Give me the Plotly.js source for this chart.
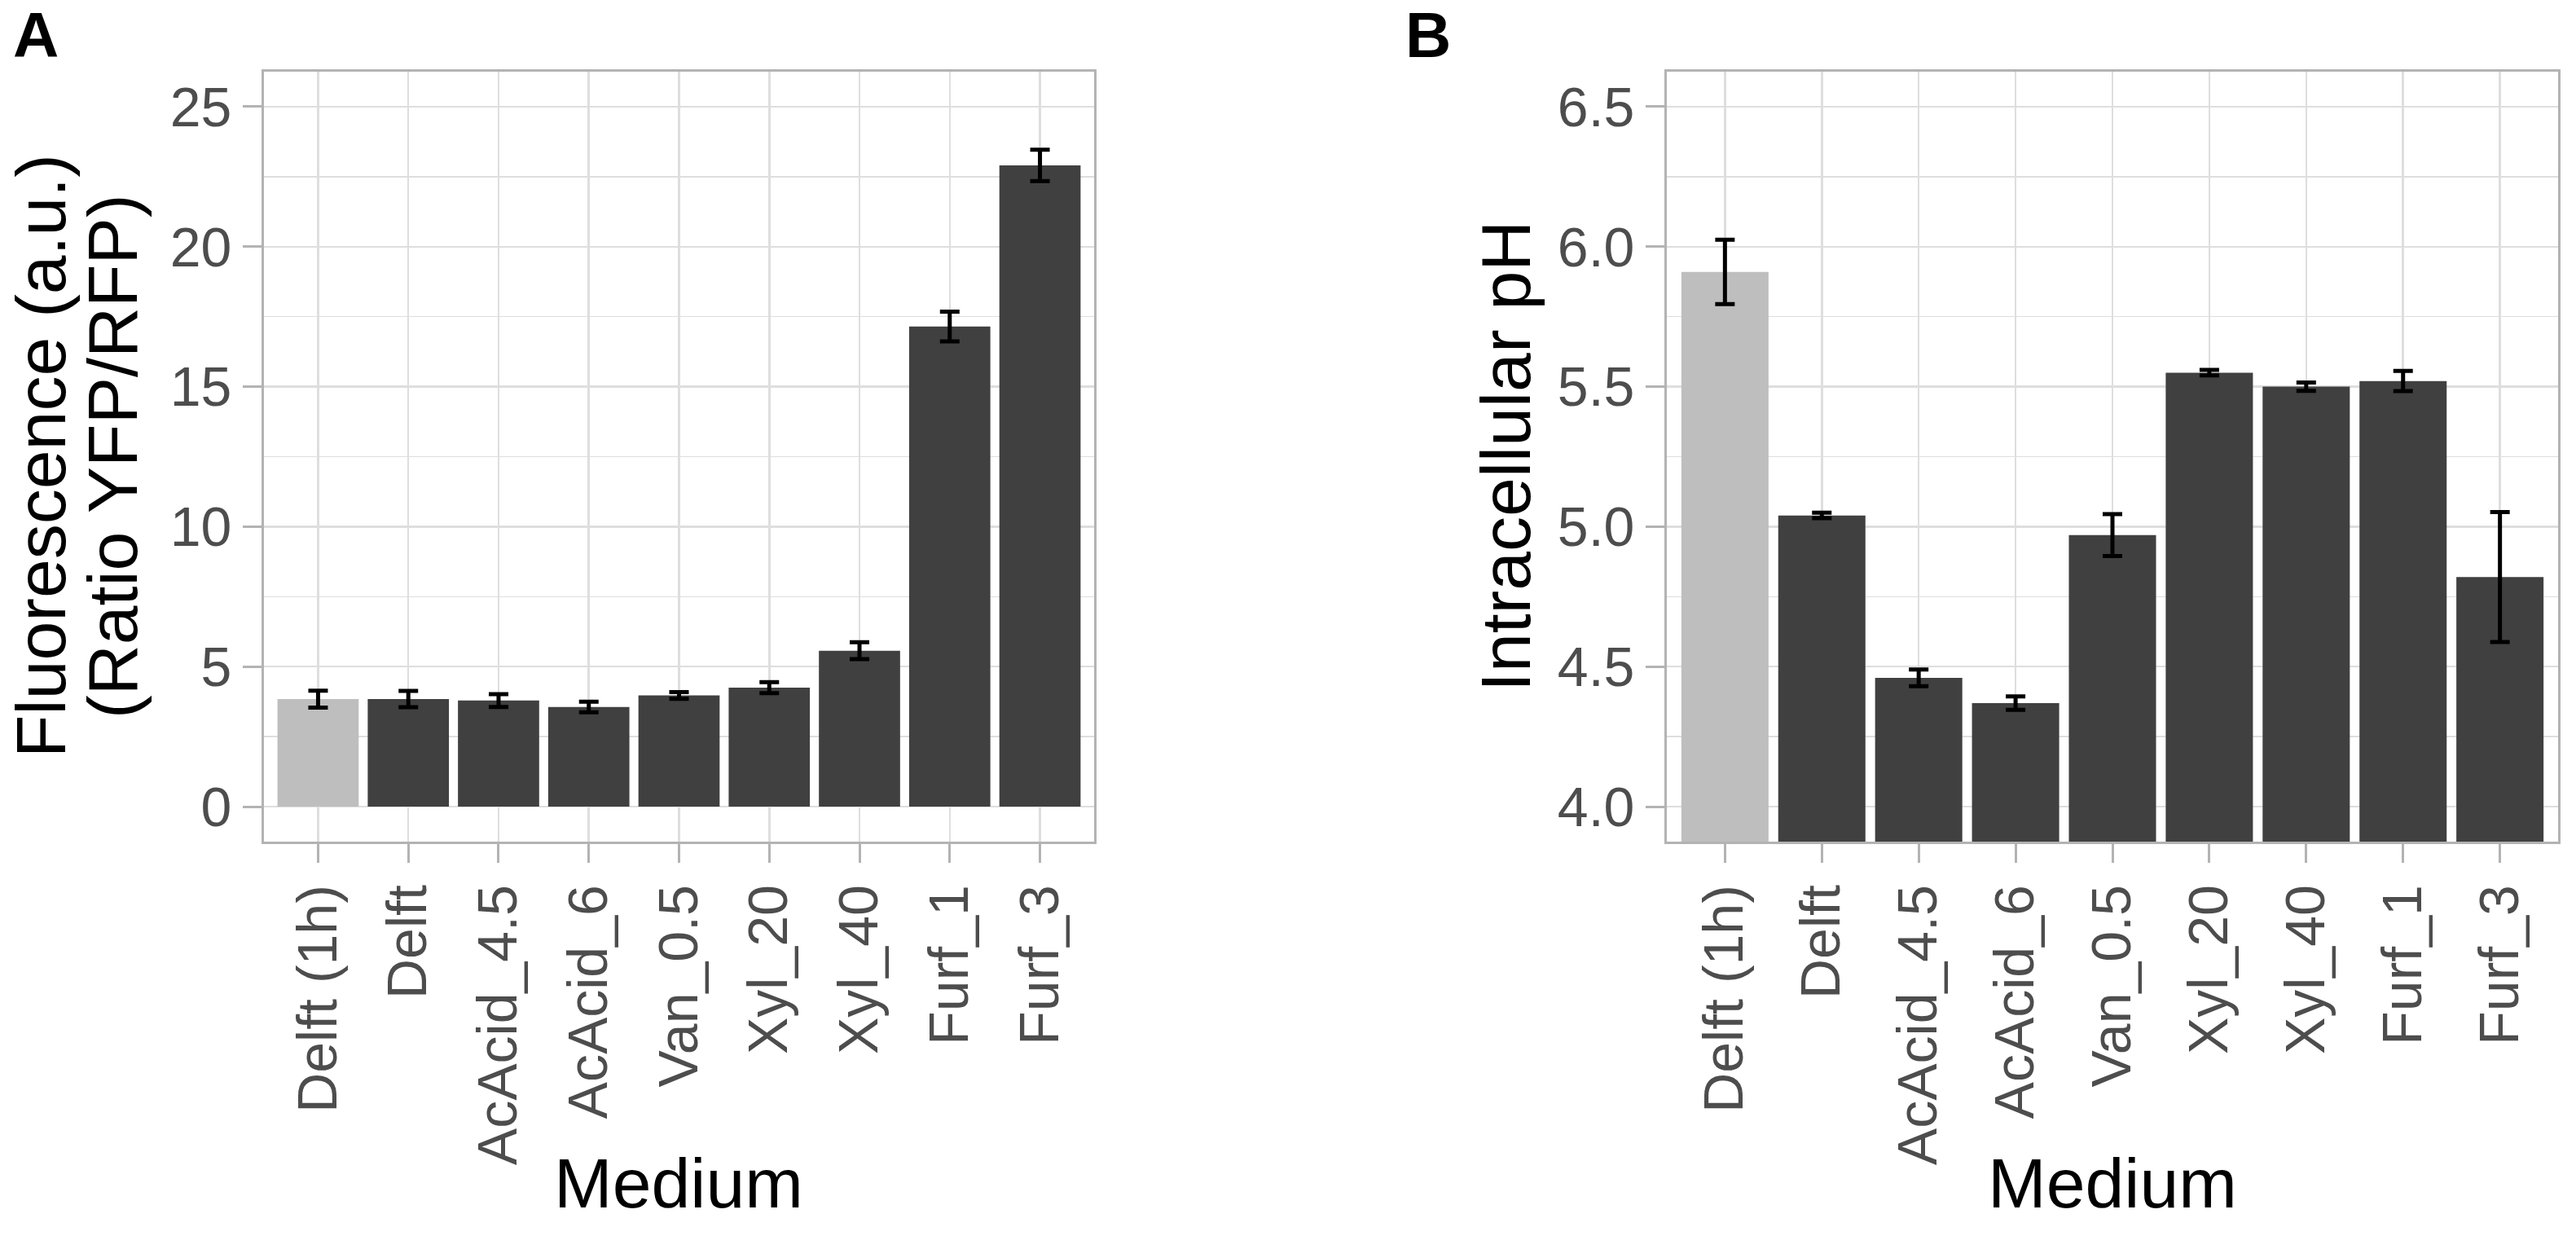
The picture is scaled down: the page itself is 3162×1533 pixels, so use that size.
<!DOCTYPE html>
<html>
<head>
<meta charset="utf-8">
<script src="https://cdn.plot.ly/plotly-3.0.1.min.js"></script>
<style>
  html, body { margin: 0; padding: 0; background: #ffffff; }
  #chart { width: 3162px; height: 1533px; }
</style>
</head>
<body>
<div id="chart"></div>
<script>
// ---- Data ----
const categories = ['Delft (1h)', 'Delft', 'AcAcid_4.5', 'AcAcid_6', 'Van_0.5', 'Xyl_20', 'Xyl_40', 'Furf_1', 'Furf_3'];
const fluorescence = [3.84, 3.84, 3.79, 3.56, 3.97, 4.25, 5.57, 17.15, 22.9];
const fluorescenceErr = [0.30, 0.29, 0.23, 0.19, 0.12, 0.20, 0.30, 0.53, 0.56];
const intracellularPH = [5.91, 5.04, 4.46, 4.37, 4.97, 5.55, 5.50, 5.52, 4.82];
const intracellularPHErr = [0.115, 0.01, 0.03, 0.024, 0.075, 0.01, 0.015, 0.036, 0.232];
const yTicksA = [0, 5, 10, 15, 20, 25];
const yTickTextA = ['0', '5', '10', '15', '20', '25'];
const yTicksB = [4.0, 4.5, 5.0, 5.5, 6.0, 6.5];
const yTickTextB = ['4.0', '4.5', '5.0', '5.5', '6.0', '6.5'];
const xTitle = 'Medium';
const yTitleA = ['Fluorescence (a.u.)', '(Ratio YFP/RFP)'];
const yTitleB = 'Intracellular pH';

// ---- Styling ----
const FONT = 'Liberation Sans, Arial, Helvetica, sans-serif';
const barColors = categories.map((c, i) => i === 0 ? '#BEBEBE' : '#404040');
const BORDER = '#B3B3B3';
const GRID = '#DEDEDE';
const TICKFONT = { family: FONT, size: 68, color: '#4D4D4D' };
const TITLEFONT = { family: FONT, size: 86, color: '#000000' };

const W = 3162, H = 1533;
const mL = 324, mR = 22, mT = 88, mB = 500;
const plotW = W - mL - mR, plotH = H - mT - mB;
const px2x = p => (p - mL) / plotW;
const px2y = p => (H - mB - p) / plotH;

function bars(values, errs, xa, ya) {
  return {
    type: 'bar',
    x: categories,
    y: values,
    xaxis: xa, yaxis: ya,
    marker: { color: barColors, line: { width: 0 } },
    error_y: { type: 'data', array: errs, visible: true, color: '#000000', thickness: 5, width: 12 },
    hoverinfo: 'x+y',
    showlegend: false
  };
}

function xAxis(domain, anchor) {
  return {
    domain: domain,
    anchor: anchor,
    type: 'category',
    categoryorder: 'array',
    categoryarray: categories,
    range: [-0.6, 8.6],
    tickangle: -90,
    ticks: 'outside', ticklen: 23, tickwidth: 3, tickcolor: BORDER,
    tickfont: TICKFONT,
    showgrid: true, gridcolor: GRID, gridwidth: 2.5,
    showline: true, linecolor: BORDER, linewidth: 3, mirror: true,
    zeroline: false,
    automargin: false
  };
}

function yAxis(range, ticks, tickText, minorStep, anchor) {
  return {
    domain: [0, 1],
    anchor: anchor,
    range: range,
    tickmode: 'array',
    tickvals: ticks,
    ticktext: tickText,
    ticks: 'outside', ticklen: 23, tickwidth: 3, tickcolor: BORDER,
    tickfont: TICKFONT,
    showgrid: true, gridcolor: GRID, gridwidth: 2.5,
    minor: { tickmode: 'linear', tick0: 0, dtick: minorStep, showgrid: true, gridcolor: GRID, gridwidth: 1.5, ticks: '' },
    showline: true, linecolor: BORDER, linewidth: 3, mirror: true,
    zeroline: false,
    automargin: false
  };
}

function label(text, xpx, ypx, angle, font) {
  return { text: text, xref: 'paper', yref: 'paper', x: px2x(xpx), y: px2y(ypx),
    xanchor: 'center', yanchor: 'middle', textangle: angle, showarrow: false, font: font };
}

const data = [
  bars(fluorescence, fluorescenceErr, 'x', 'y'),
  bars(intracellularPH, intracellularPHErr, 'x2', 'y2')
];

const panelLetterFont = { family: FONT, size: 78, color: '#000000' };

const layout = {
  width: W, height: H,
  margin: { l: mL, r: mR, t: mT, b: mB, pad: 0 },
  paper_bgcolor: '#ffffff',
  plot_bgcolor: '#ffffff',
  font: { family: FONT },
  bargap: 0.1,
  xaxis: xAxis([0, px2x(1343)], 'y'),
  yaxis: yAxis([-1.25, 26.25], yTicksA, yTickTextA, 2.5, 'x'),
  xaxis2: xAxis([px2x(2046), 1], 'y2'),
  yaxis2: yAxis([3.875, 6.625], yTicksB, yTickTextB, 0.25, 'x2'),
  annotations: [
    // axis titles
    label(yTitleA[0], 50, 560, -90, TITLEFONT),
    label(yTitleA[1], 138, 560, -90, TITLEFONT),
    label(yTitleB, 1848, 560, -90, TITLEFONT),
    label(xTitle, 833, 1452, 0, TITLEFONT),
    label(xTitle, 2593, 1452, 0, TITLEFONT),
    // panel letters
    { text: '<b>A</b>', xref: 'paper', yref: 'paper', x: px2x(14), y: px2y(43),
      xanchor: 'left', yanchor: 'middle', showarrow: false, font: panelLetterFont },
    { text: '<b>B</b>', xref: 'paper', yref: 'paper', x: px2x(1723), y: px2y(43),
      xanchor: 'left', yanchor: 'middle', showarrow: false, font: panelLetterFont }
  ]
};

Plotly.newPlot('chart', data, layout, { displayModeBar: false, staticPlot: true });
</script>
</body>
</html>
